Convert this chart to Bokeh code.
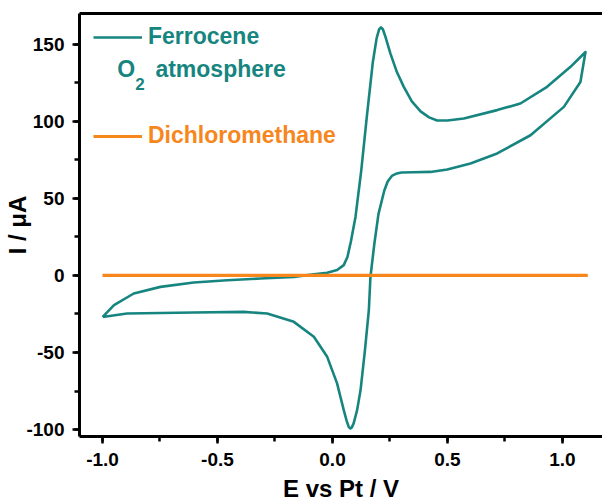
import math
from bokeh.plotting import figure
from bokeh.models import (Legend, LegendItem, Label, LinearAxis, FixedTicker, Range1d,
                          SingleIntervalTicker, NumeralTickFormatter)
from bokeh.embed import file_html
from bokeh.resources import INLINE

# ---- data ----
# Ferrocene, O2 atmosphere: anodic (forward) scan
e_fwd = [-1.00, -0.95, -0.864, -0.748, -0.603, -0.458, -0.313, -0.168, -0.081, -0.023,
         0.02, 0.049, 0.065, 0.08, 0.10, 0.125, 0.15, 0.175, 0.192, 0.203, 0.211, 0.219,
         0.23, 0.252, 0.28, 0.31, 0.345, 0.383, 0.42, 0.455, 0.50, 0.571, 0.716, 0.817,
         0.933, 1.035, 1.10]
i_fwd = [-27.0, -19.3, -11.7, -7.4, -4.6, -3.1, -2.0, -0.9, 0.8, 1.7,
         3.5, 6.7, 12.0, 22.0, 38.0, 68.0, 104.0, 138.0, 154.0, 159.8, 161.0, 159.8,
         155.0, 144.0, 132.0, 122.4, 113.0, 106.5, 102.6, 100.6, 100.6, 101.9, 107.3, 111.6,
         122.4, 135.4, 145.0]
# cathodic (reverse) scan
e_rev = [1.078, 1.006, 0.861, 0.716, 0.60, 0.499, 0.426, 0.35, 0.30, 0.28, 0.258, 0.24,
         0.225, 0.20, 0.182, 0.165, 0.158, 0.14, 0.122, 0.107, 0.092, 0.084, 0.078, 0.071,
         0.062, 0.049, 0.035, 0.02, -0.023, -0.081, -0.168, -0.284, -0.386, -0.603, -0.893, -1.0]
i_rev = [125.6, 109.4, 91.0, 79.2, 72.7, 68.8, 67.2, 67.0, 66.8, 66.2, 64.6, 61.0,
         55.0, 40.0, 20.6, -1.0, -22.7, -50.0, -74.4, -87.4, -96.0, -98.6, -99.3, -98.4,
         -94.5, -87.4, -79.0, -70.0, -52.8, -39.8, -30.1, -24.7, -23.6, -24.0, -24.7, -27.0]
# Dichloromethane blank
e_dcm = [-1.0, 1.11]
i_dcm = [0.0, 0.0]

x_ticks_interval = 0.5
y_ticks_interval = 50

TEAL = "#17857F"
ORANGE = "#F7861C"
FONT = "Liberation Sans"

p = figure(width=602, height=504, output_backend="svg", toolbar_location=None,
           x_range=Range1d(-1.10, 1.174), y_range=Range1d(-104.5, 170),
           min_border_left=79, min_border_right=0, min_border_top=13, min_border_bottom=68,
           background_fill_color="white", border_fill_color="white")
p.outline_line_color = None
p.xgrid.visible = False
p.ygrid.visible = False

teal = p.line(e_fwd + e_rev, i_fwd + i_rev, line_color=TEAL, line_width=2.6, line_join="round")
orng = p.line(e_dcm, i_dcm, line_color=ORANGE, line_width=3.2)

for ax, interval in ((p.xaxis[0], x_ticks_interval), (p.yaxis[0], y_ticks_interval)):
    ax.ticker = SingleIntervalTicker(interval=interval, num_minor_ticks=2)
    ax.axis_line_width = 3
    ax.axis_line_color = "black"
    ax.major_tick_line_width = 2.5
    ax.minor_tick_line_width = 2.5
    ax.major_tick_out = 7
    ax.major_tick_in = 0
    ax.minor_tick_out = 5
    ax.minor_tick_in = 0
    ax.major_label_text_font = FONT
    ax.major_label_text_font_style = "bold"
    ax.major_label_text_font_size = "19px"
    ax.major_label_text_color = "black"
    ax.axis_label_text_font = FONT
    ax.axis_label_text_font_style = "bold"
    ax.axis_label_text_font_size = "24px"
    ax.axis_label_text_color = "black"
p.xaxis[0].formatter = NumeralTickFormatter(format="0.0")
p.yaxis[0].formatter = NumeralTickFormatter(format="0")
p.xaxis[0].major_label_standoff = 9
p.yaxis[0].major_label_standoff = 8
p.xaxis[0].axis_label = "E vs Pt / V"
p.xaxis[0].axis_label_standoff = 6
p.yaxis[0].axis_label = "I / μA"
p.yaxis[0].axis_label_standoff = -8

top = LinearAxis(ticker=FixedTicker(ticks=[]), axis_line_width=3, axis_line_color="black",
                 major_tick_line_color=None, minor_tick_line_color=None)
p.add_layout(top, "above")

# legends
def make_legend(label, r, color, loc):
    lg = Legend(items=[LegendItem(label=label, renderers=[r])], location=loc,
                padding=0, margin=0, border_line_color=None, background_fill_alpha=0,
                glyph_width=49, glyph_height=20, label_standoff=6, spacing=0,
                label_text_font=FONT, label_text_font_style="bold",
                label_text_font_size="23px", label_text_color=color)
    p.add_layout(lg, "center")

make_legend("Ferrocene", teal, TEAL, (14, 386))
make_legend("Dichloromethane", orng, ORANGE, (14, 287))

leg_kw = dict(text_font=FONT, text_font_style="bold", text_color=TEAL, text_baseline="middle")
p.add_layout(Label(x=-0.936, y=134.3, text="O", text_font_size="23px", **leg_kw))
p.add_layout(Label(x=-0.858, y=124.2, text="2", text_font_size="17px", **leg_kw))
p.add_layout(Label(x=-0.770, y=134.3, text="atmosphere", text_font_size="23px", **leg_kw))

open("out.html", "w").write(file_html(p, INLINE))
